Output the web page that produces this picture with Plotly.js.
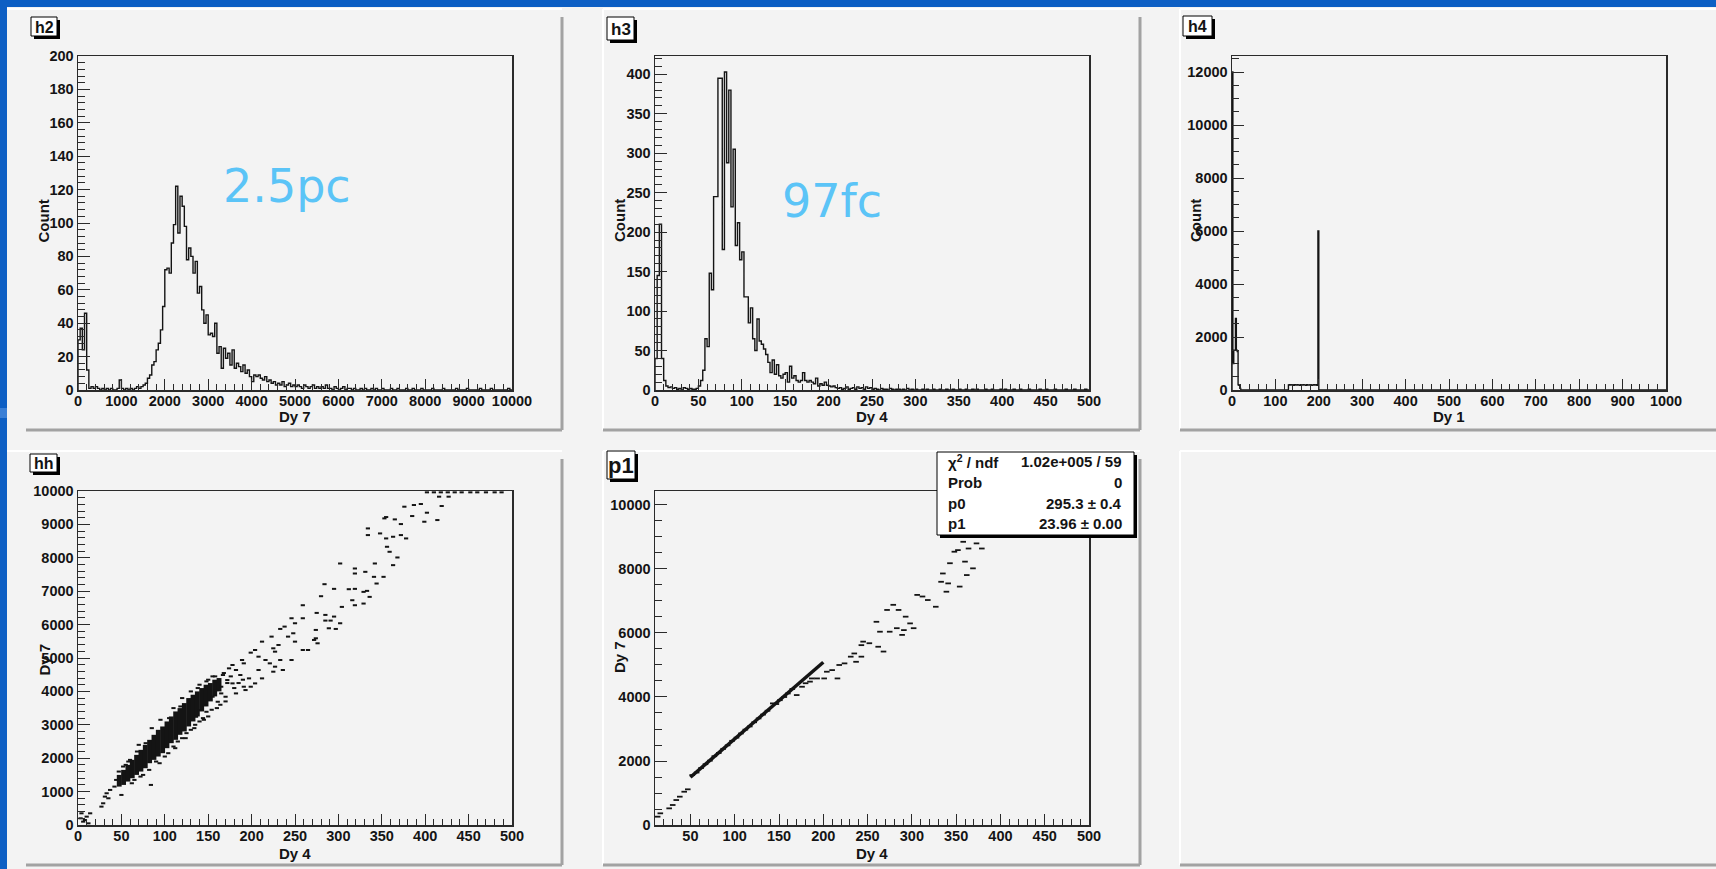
<!DOCTYPE html>
<html>
<head>
<meta charset="utf-8">
<script src="https://cdn.plot.ly/plotly-3.0.1.min.js"></script>
<style>
  html, body { margin: 0; padding: 0; background: #0d5fc4; overflow: hidden; }
  #plot { width: 1716px; height: 869px; }
</style>
</head>
<body>
<div id="plot"></div>
<script>
// ---------------- h2 : Dy 7 spectrum (0..10000, 50-wide bins) ----------------
const h2Low = 0, h2Width = 50;
const h2Counts = [
  30, 37, 24, 46, 12, 1, 2, 1, 2, 1,
  0, 1, 0, 1, 0, 1, 0, 0, 1, 6,
  1, 0, 1, 0, 1, 0, 1, 2, 1, 2,
  3, 4, 7, 9, 15, 17, 24, 28, 36, 50,
  72, 73, 70, 88, 99, 122, 94, 116, 110, 98,
  78, 85, 80, 70, 77, 58, 62, 48, 40, 45,
  33, 34, 32, 40, 22, 26, 13, 25, 19, 22,
  15, 24, 13, 16, 14, 11, 15, 10, 12, 8,
  5, 9, 8, 9, 7, 6, 8, 5, 6, 4,
  5, 3, 4, 3, 5, 2, 3, 4, 2, 3,
  2, 3, 2, 1, 3, 2, 1, 2, 3, 1,
  2, 1, 2, 1, 3, 1, 1, 0, 2, 1,
  0, 1, 2, 0, 1, 1, 0, 1, 0, 0,
  1, 0, 1, 0, 0, 1, 0, 1, 0, 0,
  1, 0, 0, 0, 1, 0, 0, 1, 0, 0,
  0, 1, 0, 0, 1, 0, 0, 0, 1, 0,
  0, 0, 0, 1, 0, 0, 0, 0, 1, 0,
  0, 0, 0, 0, 1, 0, 0, 0, 0, 1,
  0, 0, 0, 0, 0, 1, 0, 0, 0, 0,
  1, 0, 0, 0, 0, 0, 0, 0, 1, 0
];

// ---------------- h3 : Dy 4 spectrum (0..500, 2.5-wide bins) ----------------
const h3Low = 0, h3Width = 2.5;
const h3Counts = [
  40, 145, 210, 40, 12, 5, 3, 4, 2, 3,
  1, 2, 0, 3, 2, 1, 2, 1, 1, 2,
  5, 12, 25, 65, 55, 148, 127, 245, 245, 395,
  395, 178, 403, 288, 380, 232, 305, 183, 212, 165,
  175, 118, 118, 85, 104, 65, 50, 90, 62, 58,
  52, 45, 35, 22, 38, 20, 32, 18, 15, 20,
  22, 10, 30, 15, 18, 12, 10, 12, 22, 12,
  10, 12, 10, 8, 15, 5, 8, 6, 10, 6,
  5, 4, 5, 3, 2, 3, 1, 2, 4, 1,
  2, 3, 1, 4, 2, 3, 1, 4, 2, 3,
  1, 2, 1, 0, 2, 1, 1, 0, 2, 1,
  0, 1, 1, 0, 1, 0, 2, 0, 1, 0,
  1, 0, 0, 1, 0, 1, 0, 0, 1, 0,
  0, 1, 0, 0, 1, 0, 0, 1, 0, 0,
  1, 0, 0, 1, 0, 0, 1, 0, 1, 0,
  0, 0, 1, 0, 0, 1, 0, 0, 0, 1,
  0, 1, 0, 0, 0, 1, 0, 0, 1, 0,
  0, 0, 1, 0, 0, 0, 0, 1, 0, 0,
  1, 0, 0, 0, 1, 0, 0, 0, 0, 1,
  0, 0, 0, 1, 0, 0, 0, 0, 1, 0
];

// ---------------- h4 : Dy 1 spectrum (0..1000, 2-wide bins, filled bins only) ----------------
const h4Low = 0, h4Width = 2, h4NBins = 500;
const h4FilledEdges = [
  0, 2, 4, 6, 8, 10, 12, 14, 16, 18,
  130, 132, 134, 136, 138, 140, 142, 144, 146, 148,
  150, 152, 154, 156, 158, 160, 162, 164, 166, 168,
  170, 172, 174, 176, 178, 180, 182, 184, 186, 188,
  190, 192, 194, 196, 198
];
const h4FilledCounts = [
  12004, 1000, 1500, 1500, 2700, 1500, 1450, 200, 180, 60,
  190, 200, 185, 195, 200, 190, 180, 200, 195, 185,
  200, 190, 195, 180, 200, 190, 185, 200, 195, 190,
  180, 200, 190, 195, 185, 200, 190, 180, 195, 200,
  185, 190, 200, 180, 6000
];

// ---------------- hh : Dy 7 vs Dy 4 scatter ----------------
// dense core of the correlation, per 5-wide Dy 4 column: lowest and highest Dy 7
const hhCoreX  = [47.5, 52.5, 57.5, 62.5, 67.5, 72.5, 77.5, 82.5, 87.5, 92.5, 97.5, 102.5,
                  107.5, 112.5, 117.5, 122.5, 127.5, 132.5, 137.5, 142.5, 147.5, 152.5, 157.5, 162.5];
const hhCoreLo = [1150, 1200, 1300, 1400, 1500, 1600, 1700, 1850, 1950, 2050, 2150, 2300,
                  2450, 2550, 2700, 2800, 2950, 3100, 3250, 3400, 3550, 3700, 3850, 4000];
const hhCoreHi = [1500, 1650, 1800, 1950, 2100, 2250, 2400, 2550, 2700, 2850, 2950, 3100,
                  3250, 3400, 3500, 3650, 3800, 3900, 4000, 4100, 4200, 4250, 4350, 4400];
// isolated entries
const hhX = [
  402, 410, 418, 426, 434, 442, 452, 460, 470, 480, 488,
  416, 427, 376, 387, 395, 419, 353, 355, 365, 385, 402, 399, 414,
  334, 372, 348, 334, 355, 363, 372, 378, 356, 359,
  368, 363, 342, 302, 319, 319, 331, 341, 352, 344,
  284, 295, 312, 319, 329, 333, 336, 280, 316, 304, 319, 329, 259,
  275, 285, 295, 285, 291, 302, 289, 297, 274, 274, 272, 276,
  259, 246, 250, 238, 233, 248, 242, 223, 250, 231, 259, 265, 225, 227, 212, 204, 199, 208,
  216, 233, 246, 221, 227, 236, 208, 225, 212, 197, 204, 199, 191, 193, 182, 191, 189, 178,
  174, 182, 167, 187, 172, 178, 165, 159, 165, 170, 155, 161, 146, 140, 148, 136,
  3, 10, 14, 6, 12, 4, 8, 27, 31, 33, 37, 42, 50, 84, 29, 35,
  47, 55, 60, 70, 85, 95, 110, 120, 130, 140, 150, 155, 160,
  65, 75, 90, 100, 110, 120, 130, 140, 150, 160, 170, 115, 125, 135, 145,
  44, 52, 58, 68, 78, 88, 98, 105, 118, 128, 138, 148, 158, 168, 172, 176,
  62, 72, 82, 94, 104, 112, 124, 134, 144, 154, 164, 180, 185, 190
];
const hhY = [
  9960, 9960, 9960, 9960, 9960, 9960, 9960, 9960, 9960, 9960, 9960,
  9830, 9830, 9530, 9580, 9610, 9550, 9180, 9220, 9150, 9250, 9350, 9080, 9130,
  8880, 9010, 8730, 8680, 8580, 8630, 8680, 8580, 8330, 8180,
  8010, 7780, 7830, 7830, 7680, 7530, 7580, 7430, 7430, 7230,
  7210, 7070, 7060, 7070, 6980, 7010, 6830, 6850, 6730, 6530, 6580, 6630, 6580,
  6350, 6290, 6240, 6120, 6120, 6040, 5890, 5870, 5840, 5590, 5540, 5440,
  6190, 6190, 6040, 5940, 5870, 5740, 5640, 5640, 5490, 5390, 5240, 5240, 5290, 5190, 5490, 5240, 5160, 5040,
  4940, 4940, 4940, 4840, 4740, 4640, 4640, 4590, 4390, 4390, 4240, 4140, 4140, 4040, 3940, 4840, 4940, 4790,
  4690, 4640, 4490, 4490, 4340, 4240, 4140, 4040, 3940, 3840, 3840, 3690, 3590, 3440, 3390, 3240,
  200, 250, 350, 100, 50, 350, 150, 550, 850, 950, 1050, 1150, 900, 1200, 650, 800,
  1600, 1800, 1950, 2400, 2900, 3150, 3500, 3800, 4000, 4200, 4350, 4450, 4300,
  1350, 1500, 1900, 2050, 2350, 2600, 2850, 3100, 3250, 3500, 3700, 2500, 2750, 3000, 3150,
  1350, 1750, 1900, 2200, 2450, 2600, 2900, 3200, 3550, 3750, 4100, 4300, 4450, 4550, 4250, 4450,
  1250, 1450, 1650, 1850, 2150, 2300, 2600, 2900, 3200, 3450, 3600, 4100, 4250, 4350
];

// ---------------- p1 : profile of Dy 7 vs Dy 4 and its linear fit ----------------
const p1X = [
  13, 16, 26, 30, 34, 38, 43, 47,
  52, 57, 62, 67, 72, 77, 82, 87, 92, 97, 102, 107, 112, 117, 122, 127, 132, 137,
  143, 151, 160, 170, 176, 180, 187, 193, 201, 204, 210, 216, 218, 224, 231, 235, 237,
  243, 243, 245, 252, 260, 262, 264, 268, 272, 275, 279, 283, 285, 289, 291, 293, 298,
  302, 306, 312, 318, 327, 333, 335, 339, 341, 343, 348, 352, 354, 358, 360, 362, 364,
  369, 373, 379, 147, 156, 165, 185
];
const p1Y = [
  260, 365, 520, 625, 780, 885, 1040, 1115,
  1560, 1640, 1780, 1900, 2010, 2150, 2250, 2380, 2490, 2630, 2730, 2860, 2980, 3080, 3210, 3330, 3450, 3570,
  3800, 3900, 4110, 4060, 4320, 4430, 4580, 4580, 4580, 4790, 4840, 4580, 5000, 5050, 5260, 5360, 5100,
  5260, 5620, 5730, 5680, 6350, 5570, 6040, 5420, 6720, 6040, 6880, 6150, 6720, 5940, 6090, 6510, 6300,
  6150, 7190, 7140, 7030, 6820, 7600, 7860, 7290, 7550, 8180, 8540, 8590, 7450, 8850, 8230, 7810, 8640,
  8020, 8800, 8640, 3780, 4000, 4250, 4480
];
const fitP0 = 295.3, fitP1 = 23.96;
const fitRange = [50, 200];
const statRows = [
  ['\u03c7<sup>2</sup> / ndf', '1.02e+005 / 59'],
  ['Prob', '0'],
  ['p0', '295.3 \u00b1 0.4'],
  ['p1', '23.96 \u00b1 0.00']
];

// ---------------- page geometry (pixels) ----------------
const W = 1716, H = 869;
const fx = v => v / W;
const fy = v => 1 - v / H;
const FONT = 'Liberation Sans, Arial, Helvetica, sans-serif';
const INK = '#141414';

function stepTrace(low, width, counts, xa, ya) {
  const xs = [low], ys = [0];
  counts.forEach((c, i) => { xs.push(low + i * width); ys.push(c); });
  const end = low + counts.length * width;
  xs.push(end); ys.push(counts[counts.length - 1]);
  xs.push(end); ys.push(0);
  return { type: 'scatter', mode: 'lines', x: xs, y: ys, xaxis: xa, yaxis: ya,
           line: { shape: 'hv', color: INK, width: 1.4 }, hoverinfo: 'skip' };
}

// full h4 bin table from the filled bins
const h4Counts = new Array(h4NBins).fill(0);
h4FilledEdges.forEach((e, k) => { h4Counts[Math.round((e - h4Low) / h4Width)] = h4FilledCounts[k]; });

const traces = [
  stepTrace(h2Low, h2Width, h2Counts, 'x', 'y'),
  stepTrace(h3Low, h3Width, h3Counts, 'x2', 'y2'),
  stepTrace(h4Low, h4Width, h4Counts, 'x3', 'y3'),
  { type: 'bar', x: hhCoreX, base: hhCoreLo, y: hhCoreHi.map((v, i) => v - hhCoreLo[i]),
    width: 5.6, marker: { color: INK, line: { width: 0 } }, xaxis: 'x4', yaxis: 'y4', hoverinfo: 'skip' },
  { type: 'scatter', mode: 'markers', x: hhX, y: hhY, xaxis: 'x4', yaxis: 'y4',
    marker: { symbol: 'line-ew', size: 3, line: { width: 2, color: INK } }, hoverinfo: 'skip' },
  { type: 'scatter', mode: 'markers', x: p1X, y: p1Y, xaxis: 'x5', yaxis: 'y5',
    marker: { symbol: 'line-ew', size: 4, line: { width: 1.8, color: INK } }, hoverinfo: 'skip' },
  { type: 'scatter', mode: 'lines', x: fitRange, y: fitRange.map(v => fitP0 + fitP1 * v),
    xaxis: 'x5', yaxis: 'y5', line: { color: INK, width: 3.5 }, hoverinfo: 'skip' }
];

function axis(domain, range, dtick, minorDtick, len, minorLen, anchor, isX) {
  const a = {
    domain: domain, range: range, anchor: anchor, autorange: false,
    showline: true, mirror: true, linecolor: '#2a2a2a', linewidth: 1.5,
    ticks: 'inside', ticklen: len, tickwidth: 1, tickcolor: '#2a2a2a',
    dtick: dtick, tick0: 0, tickformat: 'd',
    minor: { dtick: minorDtick, ticks: 'inside', ticklen: minorLen, tickwidth: 1, tickcolor: '#2a2a2a', showgrid: false },
    showgrid: false, zeroline: false, fixedrange: true,
    tickfont: { family: FONT, size: 14.5, color: INK, weight: 'bold' }
  };
  if (isX) a.ticklabelstandoff = -3;
  return a;
}

// plot frames (pixel boxes)
const rowTop = [56, 390], rowBot = [491, 825];
const colA = [78, 512], colB = [655, 1089], colC = [1232, 1666];
const dx = c => [fx(c[0]), fx(c[1])];
const dy = r => [fy(r[1]), fy(r[0])];

const layout = {
  width: W, height: H, margin: { l: 0, r: 0, t: 0, b: 0 },
  paper_bgcolor: '#0d5fc4', plot_bgcolor: 'rgba(0,0,0,0)', showlegend: false,
  xaxis:  axis(dx(colA), [0, 10000], 1000, 200, 11, 6, 'y', true),
  yaxis:  axis(dy(rowTop), [0, 200], 20, 4, 12, 7, 'x'),
  xaxis2: axis(dx(colB), [0, 500], 50, 10, 11, 6, 'y2', true),
  yaxis2: axis(dy(rowTop), [0, 423.2], 50, 10, 12, 7, 'x2'),
  xaxis3: axis(dx(colC), [0, 1000], 100, 20, 11, 6, 'y3', true),
  yaxis3: axis(dy(rowTop), [0, 12604], 2000, 500, 12, 7, 'x3'),
  xaxis4: axis(dx(colA), [0, 500], 50, 10, 11, 6, 'y4', true),
  yaxis4: axis(dy(rowBot), [0, 10000], 1000, 200, 12, 7, 'x4'),
  xaxis5: axis(dx(colB), [10, 500], 50, 10, 11, 6, 'y5', true),
  yaxis5: axis(dy(rowBot), [0, 10437], 2000, 500, 12, 7, 'x5'),
  shapes: [], annotations: []
};

const S = layout.shapes, A = layout.annotations;
function rect(x0, y0, x1, y1, fill, line, layer) {
  S.push({ type: 'rect', xref: 'paper', yref: 'paper', x0: fx(x0), x1: fx(x1), y0: fy(y1), y1: fy(y0),
           fillcolor: fill, line: line || { width: 0 }, layer: layer || 'below' });
}
function seg(x0, y0, x1, y1, color, width) {
  S.push({ type: 'line', xref: 'paper', yref: 'paper', x0: fx(x0), x1: fx(x1), y0: fy(y0), y1: fy(y1),
           line: { color: color, width: width }, layer: 'below' });
}
function text(t, x, y, size, opts) {
  A.push(Object.assign({ text: t, x: fx(x), y: fy(y), xref: 'paper', yref: 'paper', showarrow: false,
    xanchor: 'center', yanchor: 'middle',
    font: { family: FONT, size: size, color: INK, weight: 'bold' } }, opts || {}));
}

// canvas and pads
rect(7, 7, W, H, '#f3f3f3');
rect(0, 408, 7, 418, '#3a7fd6');
const pads = [[7, 9, 562, 430], [603, 9, 1140, 430], [1180, 9, W + 4, 430],
              [7, 451, 562, 865], [603, 451, 1140, 865], [1180, 451, W + 4, 865]];
pads.forEach(p => {
  seg(p[0], p[1], p[2], p[1], '#ffffff', 2);
  if (p[0] > 7) seg(p[0], p[1], p[0], p[3], '#ffffff', 2);
  seg(p[0] > 7 ? p[0] : 26, p[3], p[2], p[3], '#a2a2a2', 3);
  seg(p[2], p[1] + 8, p[2], p[3], '#a2a2a2', 3);
});

// name tags
function tag(label, x0, y0, x1, y1, size) {
  rect(x0 + 3, y0 + 3, x1 + 3, y1 + 3, '#000000', null, 'above');
  rect(x0, y0, x1, y1, '#ffffff', { color: '#000000', width: 1 }, 'above');
  text(label, (x0 + x1) / 2, (y0 + y1) / 2 + 1, size);
}
tag('h2', 31, 17, 57, 36, 16);
tag('h3', 607, 17, 634, 40, 17);
tag('h4', 1183, 16, 1212, 36, 16);
tag('hh', 30, 454, 57, 472, 16);
tag('p1', 607, 451, 635, 479, 22);

// axis titles
text('Count', 43.5, 221, 15, { textangle: -90 });
text('Dy 7', 295, 417, 15);
text('Count', 620, 221, 15, { textangle: -90 });
text('Dy 4', 872, 417, 15);
text('Count', 1196, 221, 15, { textangle: -90 });
text('Dy 1', 1449, 417, 15);
text('Dy 7', 43.5, 660, 15, { textangle: -90 });
text('Dy 4', 295, 853, 15);
text('Dy 7', 619, 657, 15, { textangle: -90 });
text('Dy 4', 872, 853, 15);

// fit statistics box
rect(940, 455, 1137, 538, '#000000', null, 'above');
rect(937, 452, 1134, 535, '#ffffff', { color: '#000000', width: 1 }, 'above');
statRows.forEach((r, i) => {
  const y = 462 + i * 20.5;
  text(r[0], 946, y, 15, { xanchor: 'left' });
  text(r[1], 1124, y, 15, { xanchor: 'right' });
});

// charge notes
text('2.5pc', 221, 186, 46, { xanchor: 'left',
  font: { family: 'DejaVu Sans, Verdana, sans-serif', size: 46, color: '#5bc4f7' } });
text('97fc', 780, 201, 46, { xanchor: 'left',
  font: { family: 'DejaVu Sans, Verdana, sans-serif', size: 46, color: '#5bc4f7' } });

Plotly.newPlot('plot', traces, layout, { staticPlot: true, displayModeBar: false });
</script>
</body>
</html>
